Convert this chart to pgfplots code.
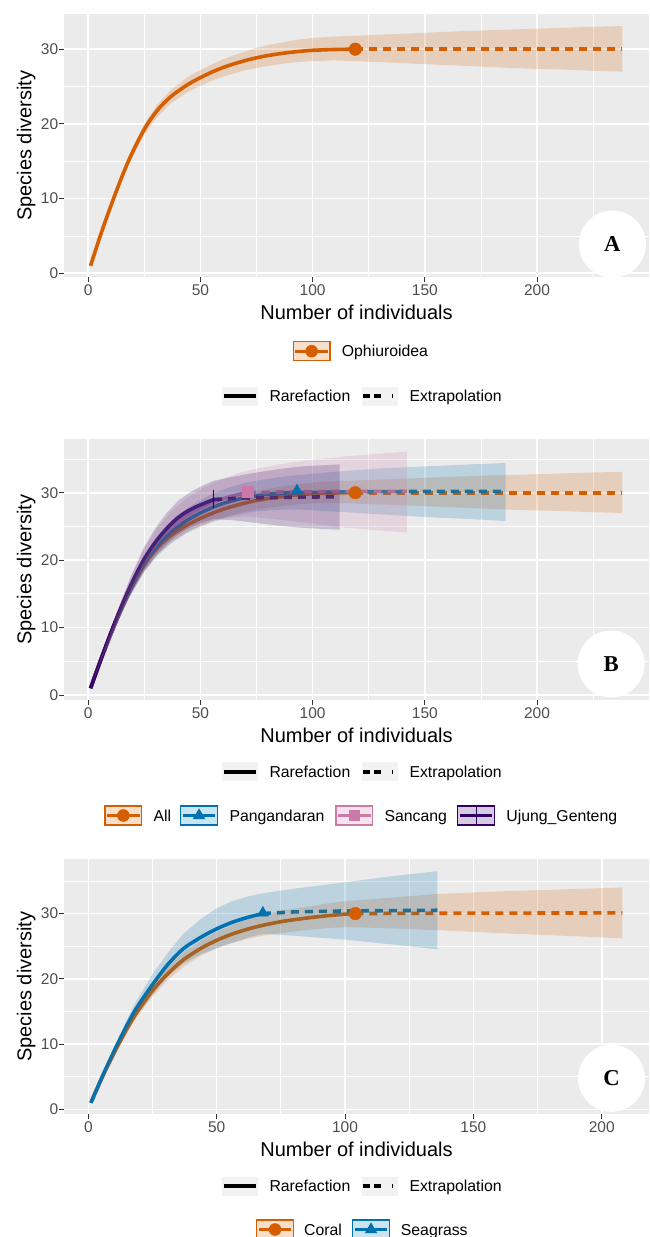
\documentclass[border=0pt]{standalone}
\usepackage{fontspec}
\setmainfont{Liberation Sans}
\newfontfamily\serifbold{Liberation Serif}
\usepackage{pgfplots}
\pgfplotsset{compat=1.18}
\usepackage{pgfplotstable}

\definecolor{cOr}{HTML}{D55E00}
\definecolor{cBl}{HTML}{0072B2}
\definecolor{cPk}{HTML}{CC79A7}
\definecolor{cPu}{HTML}{330066}
\definecolor{panelbg}{HTML}{EBEBEB}
\definecolor{grey30}{HTML}{4D4D4D}
\definecolor{grey20}{HTML}{333333}
\definecolor{keybg}{HTML}{F2F2F2}

% ---------- All / Ophiuroidea (n = 119)
\pgfplotstableread{
m s
1 1.0
6 5.6
12 10.6
18 15.1
25 19.3
31 21.9
37 23.7
44 25.2
50 26.2
56 27.05
62 27.75
69 28.4
75 28.85
81 29.2
88 29.5
94 29.7
100 29.85
110 29.96
119 30.0
}\rAll
\pgfplotstableread{
m s
119 30.0
238 30.0
}\eAll
\pgfplotstableread{
m y
1 1.0
6 5.8
12 11.0
18 15.7
25 20.0
31 22.7
37 24.6
44 26.2
50 27.2
56 28.1
62 28.9
69 29.6
75 30.2
81 30.6
88 31.0
94 31.3
100 31.5
110 31.7
119 31.8
135 32.0
150 32.2
165 32.4
180 32.55
195 32.7
210 32.85
225 33.0
238 33.1
238 27.0
225 27.1
210 27.3
195 27.4
180 27.6
165 27.8
150 28.0
135 28.2
119 28.4
110 28.5
100 28.4
94 28.3
88 28.1
81 27.8
75 27.5
69 27.1
62 26.5
56 25.9
50 25.1
44 24.2
37 22.8
31 21.0
25 18.6
18 14.5
12 10.2
6 5.4
1 1.0
}\bAll

% ---------- Pangandaran (n = 93)
\pgfplotstableread{
m s
1 1.0
6 5.6
12 10.6
18 15.2
25 19.6
31 22.2
37 24.2
44 25.9
50 27.0
56 27.9
62 28.6
69 29.2
75 29.55
81 29.8
87 29.95
93 30.0
}\rPan
\pgfplotstableread{
m s
93 30.0
110 30.1
130 30.15
150 30.2
186 30.2
}\ePan
\pgfplotstableread{
m y
1 1.0
6 5.8
12 11.1
18 16.1
25 20.9
31 23.7
37 25.9
44 27.7
50 28.9
56 29.9
62 30.7
69 31.4
75 31.8
81 32.1
87 32.4
93 32.6
110 33.1
130 33.6
150 33.9
170 34.2
186 34.4
186 25.8
170 26.1
150 26.4
130 26.8
110 27.2
93 27.5
87 27.5
81 27.4
75 27.2
69 26.9
62 26.4
56 25.8
50 25.1
44 24.1
37 22.5
31 20.7
25 18.3
18 14.3
12 10.0
6 5.4
1 1.0
}\bPan

% ---------- Sancang (n = 71)
\pgfplotstableread{
m s
1 1.0
6 5.6
12 10.7
18 15.5
25 20.1
31 22.9
37 24.9
44 26.6
50 27.7
56 28.6
62 29.3
66 29.65
71 30.0
}\rSan
\pgfplotstableread{
m s
71 30.0
85 30.1
100 30.15
115 30.2
142 30.2
}\eSan
\pgfplotstableread{
m y
1 1.0
6 5.9
12 11.4
18 16.7
25 21.8
31 24.9
37 27.2
44 29.2
50 30.5
56 31.5
62 32.3
66 32.8
71 33.3
85 34.2
100 34.9
115 35.4
130 35.8
142 36.1
142 24.1
130 24.4
115 24.8
100 25.4
85 26.0
71 26.5
66 26.4
62 26.2
56 25.7
50 24.9
44 24.0
37 22.6
31 20.9
25 18.4
18 14.3
12 10.0
6 5.3
1 1.0
}\bSan

% ---------- Ujung_Genteng (n = 56)
\pgfplotstableread{
m s
1 1.0
5 4.7
10 9.2
15 13.3
20 17.0
25 20.2
30 22.7
35 24.7
40 26.3
45 27.4
50 28.2
56 29.0
}\rUju
\pgfplotstableread{
m s
56 29.0
65 29.15
75 29.25
85 29.3
95 29.35
112 29.4
}\eUju
\pgfplotstableread{
m y
1 1.0
5 4.9
10 9.8
15 14.3
20 18.4
25 22.0
30 24.8
35 27.0
40 28.8
45 30.0
50 30.9
56 31.8
65 32.4
75 33.0
85 33.5
95 33.9
112 34.2
112 24.5
95 24.8
85 25.1
75 25.5
65 25.9
56 26.1
50 25.5
45 24.8
40 23.8
35 22.4
30 20.6
25 18.4
20 15.6
15 12.3
10 8.6
5 4.5
1 1.0
}\bUju

% ---------- Coral (n = 104)
\pgfplotstableread{
m s
1 1.0
6 5.4
12 10.1
18 14.3
25 18.2
31 20.8
37 22.9
44 24.7
50 25.9
56 26.85
62 27.6
68 28.2
75 28.75
81 29.1
88 29.45
94 29.7
100 29.9
104 30.0
}\rCor
\pgfplotstableread{
m s
104 30.0
140 30.05
208 30.1
}\eCor
\pgfplotstableread{
m y
1 1.0
6 5.6
12 10.5
18 15.0
25 19.1
31 21.8
37 24.0
44 25.9
50 27.2
56 28.2
62 29.1
68 29.8
75 30.4
81 30.8
88 31.2
94 31.6
100 31.9
104 32.0
120 32.5
136 33.0
160 33.4
185 33.7
208 34.0
208 26.2
185 26.6
160 27.0
136 27.45
120 27.7
104 27.9
100 27.9
94 27.8
88 27.6
81 27.3
75 27.0
68 26.6
62 26.1
56 25.5
50 24.7
44 23.6
37 21.8
31 19.8
25 17.3
18 13.6
12 9.7
6 5.2
1 1.0
}\bCor

% ---------- Seagrass (n = 68)
\pgfplotstableread{
m s
1 1.0
6 5.5
12 10.5
18 15.0
25 19.1
31 22.2
37 24.6
44 26.4
50 27.65
56 28.65
62 29.4
68 30.0
}\rSea
\pgfplotstableread{
m s
68 30.0
80 30.25
100 30.4
120 30.45
136 30.5
}\eSea
\pgfplotstableread{
m y
1 1.0
6 5.8
12 11.2
18 16.1
25 20.7
31 24.0
37 26.9
44 29.2
50 30.8
56 31.9
62 32.6
68 33.1
80 33.8
100 34.8
120 35.8
136 36.5
136 24.5
120 25.2
100 26.0
80 26.6
68 26.9
62 26.3
56 25.5
50 24.7
44 23.8
37 22.3
31 20.4
25 17.5
18 13.9
12 9.8
6 5.2
1 1.0
}\bSea

\newcommand{\rare}[2]{\addplot[#2, line width=3.6pt, line join=round, smooth] table[x=m,y=s]{#1};}
\newcommand{\extra}[2]{\addplot[#2, line width=3.6pt, dash pattern=on 8pt off 6pt] table[x=m,y=s]{#1};}
\newcommand{\band}[2]{\addplot[draw=none, fill=#2, fill opacity=0.2] table[x=m,y=y]{#1};}

\newcommand{\legfont}{\fontsize{15.8}{18}\selectfont}
\newcommand{\ckey}[4]{%
 \fill[#3, fill opacity=0.2] (#1pt,-#2pt-9.5pt) rectangle ++(36.7pt,19pt);
 \draw[#3, line width=1.3pt] (#1pt,-#2pt-9.5pt) rectangle ++(36.7pt,19pt);
 \draw[#3, line width=3pt] (#1pt+2pt,-#2pt) -- ++(32.7pt,0pt);
 #4}
\newcommand{\ltkeys}[1]{%
 \fill[keybg] (221.7pt,-#1pt-9.5pt) rectangle ++(36.7pt,19pt);
 \draw[black, line width=3.6pt] (224.2pt,-#1pt) -- ++(31.7pt,0pt);
 \node[anchor=base west, inner sep=0pt, font=\legfont] at (269.3pt,-#1pt-5.6pt) {Rarefaction};
 \fill[keybg] (361.7pt,-#1pt-9.5pt) rectangle ++(36.7pt,19pt);
 \draw[black, line width=3.6pt, dash pattern=on 6.7pt off 4.3pt on 6.7pt off 10.7pt on 1.6pt off 20pt] (363.3pt,-#1pt) -- ++(30pt,0pt);
 \node[anchor=base west, inner sep=0pt, font=\legfont] at (409.3pt,-#1pt-5.6pt) {Extrapolation};}

\pgfplotsset{gg/.style={
 scale only axis, width=585pt,
 anchor=south west,
 axis background/.style={fill=panelbg},
 axis line style={draw=none},
 grid=both,
 major grid style={white, line width=1.6pt},
 minor grid style={white, line width=0.8pt},
 tick align=outside, tick pos=left,
 major tick length=5pt, minor tick length=0pt,
 tick style={draw=grey20, line width=1pt},
 ytick={0,10,20,30}, minor ytick={5,15,25,35},
 /pgf/number format/assume math mode=true,
 ticklabel style={font=\fontsize{15.5}{18}\selectfont, text=grey30},
 xticklabel style={anchor=north, inner sep=0pt, yshift=-2.4pt},
 yticklabel style={anchor=east, inner sep=0pt, xshift=-0.6pt},
 xlabel={Number of individuals}, ylabel={Species diversity},
 label style={font=\fontsize{20}{24}\selectfont},
 ylabel style={at={(axis description cs:-0.0556,0.5)}, anchor=base},
}}

\begin{document}
\begin{tikzpicture}
\useasboundingbox (0pt,0pt) rectangle (649pt,-1237pt);

% ---------------- Panel A
\begin{axis}[gg, at={(64pt,-277pt)}, height=262.7pt,
 xmin=-10.83, xmax=249.9, ymin=-0.5, ymax=34.67,
 xtick={0,50,100,150,200}, minor xtick={25,75,125,175,225},
 xlabel style={at={(axis description cs:0.5,-0.1599)}, anchor=base}]
\addplot[only marks, mark=*, mark size=6.3pt, cOr] coordinates {(119,30)};
\rare{\rAll}{cOr}
\extra{\eAll}{cOr}
\band{\bAll}{cOr}
\node[circle, fill=white, inner sep=0pt, minimum size=67pt, font=\serifbold\bfseries\fontsize{22.7}{26}\selectfont] at (axis cs:233.6,3.9) {A};
\end{axis}

% ---------------- Panel B
\begin{axis}[gg, at={(64pt,-700pt)}, height=260.7pt,
 xmin=-10.83, xmax=249.9, ymin=-0.74, ymax=37.92,
 xtick={0,50,100,150,200}, minor xtick={25,75,125,175,225},
 xlabel style={at={(axis description cs:0.5,-0.1611)}, anchor=base}]
\addplot[only marks, mark=*, mark size=6.3pt, cOr] coordinates {(119,30)};
\addplot[only marks, mark=triangle*, mark size=6.5pt, cBl] coordinates {(93,30.3)};
\addplot[only marks, mark=square*, mark size=5.6pt, cPk] coordinates {(71,30.1)};
\addplot[only marks, mark=|, mark size=9pt, line width=1.1pt, cPu] coordinates {(56,29.0)};
\rare{\rAll}{cOr}
\extra{\eAll}{cOr}
\rare{\rPan}{cBl}
\extra{\ePan}{cBl}
\rare{\rSan}{cPk}
\extra{\eSan}{cPk}
\rare{\rUju}{cPu}
\extra{\eUju}{cPu}
\band{\bAll}{cOr}
\band{\bPan}{cBl}
\band{\bSan}{cPk}
\band{\bUju}{cPu}
\node[circle, fill=white, inner sep=0pt, minimum size=67pt, font=\serifbold\bfseries\fontsize{22.7}{26}\selectfont] at (axis cs:233.0,4.6) {B};
\end{axis}

% ---------------- Panel C
\begin{axis}[gg, at={(64pt,-1114pt)}, height=254.7pt,
 xmin=-9.47, xmax=218.4, ymin=-0.72, ymax=38.31,
 xtick={0,50,100,150,200}, minor xtick={25,75,125,175},
 xlabel style={at={(axis description cs:0.5,-0.1649)}, anchor=base}]
\addplot[only marks, mark=*, mark size=6.3pt, cOr] coordinates {(104,30)};
\addplot[only marks, mark=triangle*, mark size=6.5pt, cBl] coordinates {(68,30.1)};
\rare{\rCor}{cOr}
\extra{\eCor}{cOr}
\rare{\rSea}{cBl}
\extra{\eSea}{cBl}
\band{\bCor}{cOr}
\band{\bSea}{cBl}
\node[circle, fill=white, inner sep=0pt, minimum size=67pt, font=\serifbold\bfseries\fontsize{22.7}{26}\selectfont] at (axis cs:203.8,4.75) {C};
\end{axis}

% ---------------- Legends
\ckey{293.3}{351.2}{cOr}{\fill[cOr] (311.65pt,-351.2pt) circle (6.3pt);}
\node[anchor=base west, inner sep=0pt, font=\legfont] at (341.7pt,-356.8pt) {Ophiuroidea};
\ltkeys{396}
\ltkeys{771.7}
\ckey{105}{815.5}{cOr}{\fill[cOr] (123.35pt,-815.5pt) circle (6.3pt);}
\node[anchor=base west, inner sep=0pt, font=\legfont] at (153.3pt,-821.1pt) {All};
\ckey{180.7}{815.5}{cBl}{\fill[cBl] (199.05pt,-808.3pt) -- ++(-6.2pt,-10.7pt) -- ++(12.4pt,0pt) -- cycle;}
\node[anchor=base west, inner sep=0pt, font=\legfont] at (229.3pt,-821.1pt) {Pangandaran};
\ckey{336}{815.5}{cPk}{\fill[cPk] (348.75pt,-821.1pt) rectangle ++(11.2pt,11.2pt);}
\node[anchor=base west, inner sep=0pt, font=\legfont] at (384.4pt,-821.1pt) {Sancang};
\ckey{457.7}{815.5}{cPu}{\draw[cPu, line width=1.1pt] (476.05pt,-825pt) -- ++(0pt,19pt);}
\node[anchor=base west, inner sep=0pt, font=\legfont] at (506.2pt,-821.1pt) {Ujung\_Genteng};
\ltkeys{1186.2}
\ckey{256.7}{1229.5}{cOr}{\fill[cOr] (275.05pt,-1229.5pt) circle (6.3pt);}
\node[anchor=base west, inner sep=0pt, font=\legfont] at (304pt,-1235.1pt) {Coral};
\ckey{352.7}{1229.5}{cBl}{\fill[cBl] (371.05pt,-1222.3pt) -- ++(-6.2pt,-10.7pt) -- ++(12.4pt,0pt) -- cycle;}
\node[anchor=base west, inner sep=0pt, font=\legfont] at (400.7pt,-1235.1pt) {Seagrass};
\end{tikzpicture}
\end{document}
